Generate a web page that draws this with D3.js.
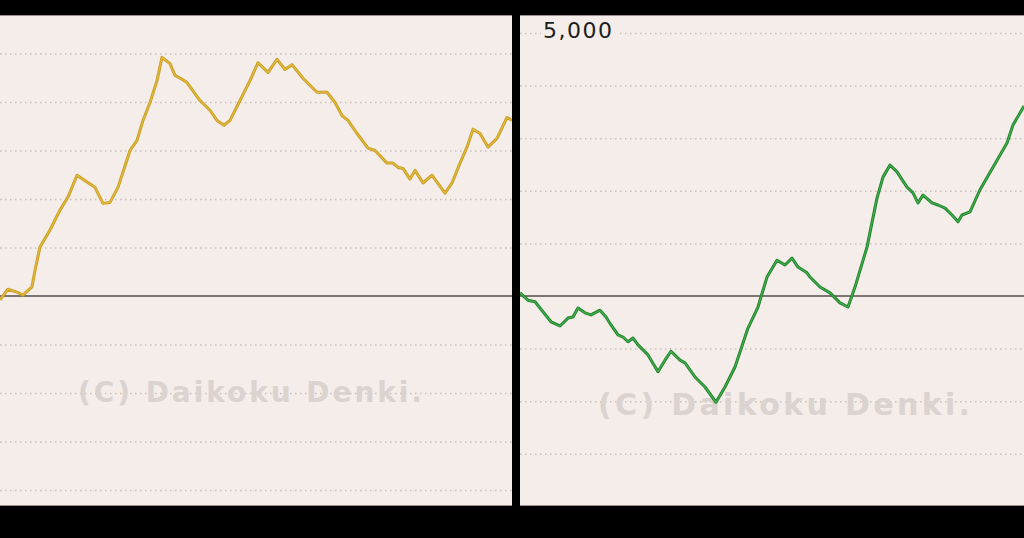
<!DOCTYPE html>
<html>
<head>
<meta charset="utf-8">
<script src="https://cdn.jsdelivr.net/npm/d3@7"></script>
<style>
  html, body { margin: 0; padding: 0; background: #000; }
  svg { display: block; }
</style>
</head>
<body>
<div id="graph"></div>
<script>
// slot graph data, games vs. medal difference
const leftGames  = [0,160,340,460,640,700,800,1000,1200,1360,1540,1740,1900,2060,2200,2360,2600,2740,2860,3000,3140,3240,3400,3500,3640,3740,4000,4200,4340,4480,4600,4800,5000,5160,5360,5540,5700,5840,6060,6340,6540,6700,6840,6960,7140,7360,7500,7740,7860,7960,8060,8200,8300,8460,8640,8740,8900,9040,9200,9340,9460,9600,9760,9940,10140,10240];
const leftValues = [-80,140,80,20,190,530,1010,1360,1770,2040,2490,2350,2240,1910,1930,2240,3000,3210,3620,3990,4440,4920,4790,4550,4470,4400,4030,3830,3620,3520,3620,4030,4440,4810,4610,4880,4670,4770,4490,4200,4200,3990,3720,3620,3350,3050,3000,2740,2740,2650,2630,2410,2590,2330,2490,2350,2120,2330,2740,3070,3440,3350,3070,3250,3680,3620];

const rightGames  = [0,160,300,460,620,800,960,1060,1160,1300,1420,1600,1720,1820,1960,2060,2160,2260,2360,2560,2760,2900,3020,3200,3300,3500,3700,3920,4100,4300,4560,4760,4940,5140,5300,5440,5560,5740,5800,6000,6200,6400,6560,6700,6940,7140,7260,7400,7540,7740,7860,7960,8060,8240,8360,8500,8640,8760,8840,9000,9200,9460,9740,9860,10080];
const rightValues = [60,-80,-110,-300,-490,-570,-420,-400,-230,-320,-360,-270,-400,-550,-740,-780,-870,-800,-930,-1120,-1440,-1220,-1050,-1220,-1270,-1540,-1730,-2020,-1730,-1350,-610,-210,360,680,590,720,550,440,360,170,60,-130,-210,170,930,1860,2260,2490,2360,2070,1960,1770,1920,1770,1730,1670,1540,1410,1540,1600,2020,2450,2910,3250,3610];

const gridTicks = [-4000,-3000,-2000,-1000,1000,2000,3000,4000,5000];
const topLabel = "5,000";
const watermark = "(C) Daikoku Denki.";

const width = 1024;
const height = 538;

const svg = d3.select("#graph")
              .append("svg")
              .attr("width", width)
              .attr("height", height);

svg.append("rect")
   .attr("width", width)
   .attr("height", height)
   .attr("fill", "#000");

function panel(opts) {
  const g = svg.append("g").attr("transform", "translate(" + opts.x + "," + opts.top + ")");
  const w = opts.w, h = opts.h;

  const clipId = "clip" + opts.x;
  g.append("clipPath").attr("id", clipId)
   .append("rect").attr("width", w).attr("height", h);

  g.append("rect")
   .attr("width", w)
   .attr("height", h)
   .attr("fill", "#f4ede9");

  const xScale = d3.scaleLinear()
                   .domain(opts.xDomain)
                   .range([0, w]);

  const yScale = d3.scaleLinear()
                   .domain(opts.yDomain)
                   .range([h, 0]);

  const body = g.append("g").attr("clip-path", "url(#" + clipId + ")");

  // dotted grid
  const grid = body.append("g")
                   .attr("class", "grid")
                   .call(d3.axisRight(yScale).tickValues(gridTicks).tickSize(w).tickFormat(""));
  grid.select(".domain").remove();
  grid.selectAll("line")
      .attr("stroke", "#c9c0bc")
      .attr("stroke-width", 1.5)
      .attr("stroke-dasharray", "1.5,3.5");

  // watermark
  body.append("text")
      .attr("x", opts.wmX)
      .attr("y", opts.wmY)
      .attr("text-anchor", "middle")
      .attr("textLength", opts.wmLen)
      .attr("lengthAdjust", "spacing")
      .style("font-family", "'DejaVu Sans', Verdana, sans-serif")
      .style("font-weight", "bold")
      .style("font-size", opts.wmSize + "px")
      .attr("fill", "#dbd3d0")
      .text(watermark);

  // zero line
  body.append("line")
      .attr("x1", 0).attr("x2", w)
      .attr("y1", yScale(0)).attr("y2", yScale(0))
      .attr("stroke", "#7d7573")
      .attr("stroke-width", 2);

  const pts = opts.games.map((d, i) => [d, opts.values[i]]);
  const line = d3.line()
                 .x(d => xScale(d[0]))
                 .y(d => yScale(d[1]));

  body.append("path")
      .datum(pts)
      .attr("d", line)
      .attr("fill", "none")
      .attr("stroke", opts.dark)
      .attr("stroke-width", 3)
      .attr("stroke-linejoin", "round");
  body.append("path")
      .datum(pts)
      .attr("d", line)
      .attr("fill", "none")
      .attr("stroke", opts.color)
      .attr("stroke-width", 1.3)
      .attr("stroke-linejoin", "round");

  // thin frame edges
  g.append("line").attr("x1", 0).attr("x2", w).attr("y1", 0.5).attr("y2", 0.5)
   .attr("stroke", "#9a9290").attr("stroke-width", 1);
  g.append("line").attr("x1", 0).attr("x2", w).attr("y1", h - 0.5).attr("y2", h - 0.5)
   .attr("stroke", "#9a9290").attr("stroke-width", 1);

  return { g, xScale, yScale };
}

// left panel: 48.5px per 1000, zero at y=296
panel({
  x: 0, top: 15, w: 512, h: 491,
  xDomain: [0, 10240],
  yDomain: [-(506 - 296) / 48.5 * 1000, (296 - 15) / 48.5 * 1000],
  games: leftGames, values: leftValues,
  color: "#e0b93a", dark: "#c99d24",
  wmX: 250, wmY: 387, wmLen: 344, wmSize: 28
});

// right panel: 52.6px per 1000, zero at y=296
const right = panel({
  x: 520, top: 15, w: 504, h: 491,
  xDomain: [0, 10080],
  yDomain: [-(506 - 296) / 52.6 * 1000, (296 - 15) / 52.6 * 1000],
  games: rightGames, values: rightValues,
  color: "#3fb04a", dark: "#1f7d2b",
  wmX: 264, wmY: 400, wmLen: 372, wmSize: 30
});

// 5,000 label on the right chart
const lx = 23, ly = right.yScale(5000);
right.g.append("rect")
   .attr("x", lx - 2).attr("y", ly - 12)
   .attr("width", 76).attr("height", 18)
   .attr("fill", "#f4ede9");
right.g.append("text")
   .attr("x", lx)
   .attr("y", ly + 5)
   .style("font-family", "'DejaVu Sans', Verdana, sans-serif")
   .style("font-size", "22px")
   .style("letter-spacing", "1.5px")
   .attr("fill", "#1e1e1e")
   .text(topLabel);
</script>
</body>
</html>
